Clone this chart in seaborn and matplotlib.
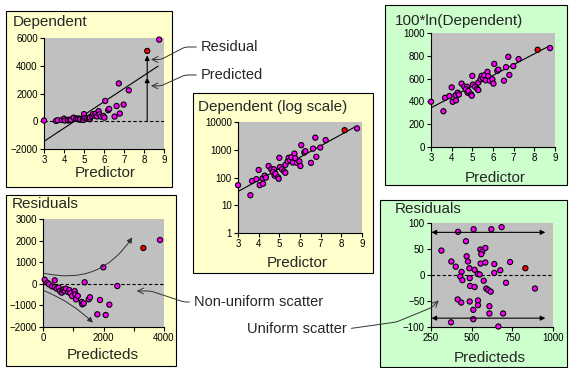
"""Transforming the dependent variable: raw vs log fit and residuals"""
import numpy as np
import matplotlib
matplotlib.use("Agg")
import matplotlib.pyplot as plt
import seaborn as sns
from matplotlib.patches import Rectangle
from matplotlib.ticker import NullLocator

# data
predictor = [3.0, 3.6, 3.68, 3.89, 4.0, 4.05, 4.21, 4.19, 4.29, 4.35,
             4.48, 4.61, 4.74, 4.69, 4.77, 4.81, 4.94, 4.97, 5.0, 5.03,
             5.13, 5.23, 5.29, 5.29, 5.4, 5.45, 5.52, 5.58, 5.65, 5.73,
             5.77, 5.85, 5.97, 6.02, 6.06, 6.21, 6.26, 6.53, 6.63, 6.74,
             6.79, 6.98, 7.24, 8.16, 8.76]
dependent = [53, 23, 75, 87, 187, 53, 60, 93, 117, 99,
             260, 198, 198, 158, 117, 136, 102, 90, 513, 238,
             198, 167, 148, 284, 380, 513, 416, 539, 347, 728,
             498, 337, 380, 260, 1466, 796, 889, 337, 1097, 2725,
             556, 1200, 2231, 5066, 5884]
flag = ["n"] * 43 + ["r", "n"]

# fitted lines (ends)
fit_x = [3.0, 8.7]
fit_raw = [-1450, 3970]
fit_ln = [344, 884]

# residuals of the raw fit
raw_pred = [55, 143, 198, 300, 386, 386, 452, 518, 560, 617,
            650, 680, 716, 760, 826, 870, 900, 959, 1047, 1069,
            1091, 1150, 1278, 1300, 1344, 1377, 1510, 1553, 1796, 1884,
            1994, 2072, 2193, 2457, 3317, 3868]
raw_res = [190, 50, -25, -120, 160, -150, -225, -180, -330, -410,
           -290, -260, -335, -225, -380, -290, -430, -565, -335, -490,
           -720, -560, -840, -950, -905, 70, -720, -625, -1413, -750,
           762, -1444, -966, -102, 1657, 2028]
raw_flag = ["n"] * 34 + ["r", "n"]

# residuals of the log fit
log_pred = [416, 512, 621, 684, 465, 314, 553, 565, 584, 559,
            469, 477, 375, 402, 486, 555, 584, 639, 736, 830,
            518, 676, 639, 438, 537, 549, 430, 443, 488, 574,
            711, 490, 518, 590, 602, 617, 889, 414, 436, 488,
            539, 539, 609, 510, 609, 693, 373, 510, 664]
log_res = [83, 88, 88, 92, 65, 47, 49, 45, 52, 40,
           36, 26, 26, 16, 13, 22, 24, 21, 25, 13,
           10, 9, 4, 6, 2, 1, -3, -10, -6, -11,
           -15, -21, -23, -26, -29, -32, -26, -47, -53, -51,
           -49, -58, -60, -67, -74, -74, -91, -85, -99]
log_flag = ["n"] * 19 + ["r"] + ["n"] * 29

W, H = 578, 368
YELLOW = "#FFFFCC"
GREEN = "#CCFFCC"
PAL = {"n": "#FF00FF", "r": "#FF0000"}

sns.set_theme(style="white")
plt.rcParams["font.family"] = ["Liberation Sans", "DejaVu Sans"]

fig = plt.figure(figsize=(W / 100, H / 100), dpi=100)


def box(l, t, r, b, color):
    fig.patches.append(Rectangle((l / W, 1 - b / H), (r - l) / W, (b - t) / H,
                                 transform=fig.transFigure, facecolor=color,
                                 edgecolor="black", lw=0.8, zorder=-1))


def make_ax(l, t, r, b):
    ax = fig.add_axes([l / W, 1 - b / H, (r - l) / W, (b - t) / H])
    ax.set_facecolor("#C0C0C0")
    ax.spines["top"].set_visible(False)
    ax.spines["right"].set_visible(False)
    for s in ["left", "bottom"]:
        ax.spines[s].set_color("black")
        ax.spines[s].set_linewidth(0.8)
    ax.tick_params(direction="out", length=3, width=0.8, labelsize=7,
                   pad=1.5, colors="black", bottom=True, left=True)
    return ax


def ftext(x, y, s, size=11, **kw):
    fig.text(x / W, 1 - y / H, s, fontsize=size, va="center", **kw)


def dots(ax, x, y, hue):
    sns.scatterplot(x=x, y=y, hue=hue, palette=PAL, marker="o", s=14,
                    edgecolor="black", linewidth=0.8, legend=False, ax=ax,
                    zorder=3, clip_on=False)


def zero_line(ax):
    ax.axhline(0, color="black", lw=0.8, ls=(0, (3, 2)), zorder=2)


x = np.array(predictor)
y = np.array(dependent, dtype=float)
ln100 = 100 * np.log(y)
arrow_kw = dict(color="#333333", lw=0.7, shrinkA=1, shrinkB=0)
link = "arc,angleA=180,angleB=0,armA=16,armB=10,rad=3"

# --- panel 1: raw dependent
box(6, 11, 172, 187, YELLOW)
ax1 = make_ax(44, 38, 164, 149)
zero_line(ax1)
sns.lineplot(x=fit_x, y=fit_raw, color="black", lw=0.8, ax=ax1)
dots(ax1, x, y, flag)
ax1.set_xlim(3, 9)
ax1.set_ylim(-2000, 6000)
ax1.set_xticks(range(3, 10))
ax1.set_yticks(range(-2000, 6001, 2000))
ax1.annotate("", xy=(8.16, 3150), xytext=(8.16, 0),
             arrowprops=dict(arrowstyle="-|>", color="black", lw=0.8,
                             mutation_scale=7, shrinkA=0, shrinkB=0))
ax1.annotate("", xy=(8.16, 4750), xytext=(8.16, 3150),
             arrowprops=dict(arrowstyle="-|>", color="black", lw=0.8,
                             mutation_scale=7, shrinkA=0, shrinkB=0))
ax1.annotate("Residual", xy=(8.35, 4450), xytext=(201 / W, 1 - 47 / H),
             textcoords="figure fraction", fontsize=10.5, va="center",
             annotation_clip=False,
             arrowprops=dict(arrowstyle="->", relpos=(0, 0.5),
                             connectionstyle=link, **arrow_kw))
ax1.annotate("Predicted", xy=(8.35, 2550), xytext=(201 / W, 1 - 75 / H),
             textcoords="figure fraction", fontsize=10.5, va="center",
             annotation_clip=False,
             arrowprops=dict(arrowstyle="->", relpos=(0, 0.5),
                             connectionstyle=link, **arrow_kw))
ftext(13, 22, "Dependent")
ftext(105, 173, "Predictor", ha="center")

# --- panel 2: residuals of raw fit
box(6, 195, 176, 366, YELLOW)
ax2 = make_ax(43, 219, 164, 327)
zero_line(ax2)
dots(ax2, raw_pred, raw_res, raw_flag)
ax2.set_xlim(0, 4000)
ax2.set_ylim(-2000, 3000)
ax2.set_xticks(range(0, 4001, 1000))
ax2.set_xticklabels(["0", "", "2000", "", "4000"])
ax2.set_yticks(range(-2000, 3001, 1000))
ax2.annotate("", xy=(2950, 2150), xytext=(0, 500),
             arrowprops=dict(arrowstyle="-|>", mutation_scale=8,
                             connectionstyle="arc3,rad=0.35", **arrow_kw))
ax2.annotate("", xy=(1650, -1800), xytext=(0, -300),
             arrowprops=dict(arrowstyle="-|>", mutation_scale=8,
                             connectionstyle="arc3,rad=-0.1", **arrow_kw))
ax2.annotate("Non-uniform scatter", xy=(3096, -333),
             xytext=(194 / W, 1 - 302 / H), textcoords="figure fraction",
             fontsize=10.5, va="center", annotation_clip=False,
             arrowprops=dict(arrowstyle="->", relpos=(0, 0.5),
                             connectionstyle="arc,angleA=180,angleB=0,armA=10,armB=14,rad=3",
                             **arrow_kw))
ftext(12, 204, "Residuals")
ftext(103, 355, "Predicteds", ha="center")

# --- panel 3: log scale
box(193, 93, 373, 273, YELLOW)
ax3 = make_ax(238, 122, 362, 233)
ax3.set_yscale("log")
sns.lineplot(x=fit_x, y=np.exp(np.array(fit_ln) / 100), color="black",
             lw=0.8, ax=ax3)
dots(ax3, x, y, flag)
ax3.set_xlim(3, 9)
ax3.set_ylim(1, 10000)
ax3.set_xticks(range(3, 10))
ax3.set_yticks([1, 10, 100, 1000, 10000])
ax3.set_yticklabels(["1", "10", "100", "1000", "10000"])
ax3.yaxis.set_minor_locator(NullLocator())
ftext(198, 107, "Dependent (log scale)")
ftext(297, 263, "Predictor", ha="center")

# --- panel 4: 100*ln
box(385, 5, 567, 185, GREEN)
ax4 = make_ax(431, 33, 555, 147)
sns.lineplot(x=fit_x, y=fit_ln, color="black", lw=0.8, ax=ax4)
dots(ax4, x, ln100, flag)
ax4.set_xlim(3, 9)
ax4.set_ylim(0, 1000)
ax4.set_xticks(range(3, 10))
ax4.set_yticks(range(0, 1001, 200))
ftext(395, 21, "100*ln(Dependent)")
ftext(495, 178, "Predictor", ha="center")

# --- panel 5: residuals of log fit
box(380, 200, 567, 367, GREEN)
ax5 = make_ax(431, 223, 553, 327)
zero_line(ax5)
dots(ax5, log_pred, log_res, log_flag)
ax5.set_xlim(250, 1000)
ax5.set_ylim(-100, 100)
ax5.set_xticks([250, 500, 750, 1000])
ax5.set_yticks(range(-100, 101, 50))
for yy in (82, -83):
    ax5.annotate("", xy=(953, yy), xytext=(253, yy),
                 arrowprops=dict(arrowstyle="<|-|>", color="black", lw=0.8,
                                 mutation_scale=7, shrinkA=0, shrinkB=0))
ax5.annotate("Uniform scatter", xy=(297, -49),
             xytext=(247 / W, 1 - 329 / H), textcoords="figure fraction",
             fontsize=10.5, va="center", annotation_clip=False,
             arrowprops=dict(arrowstyle="->", relpos=(1, 0.5),
                             connectionstyle="arc,angleA=8,angleB=225,armA=50,armB=10,rad=3",
                             **arrow_kw))
ftext(395, 209, "Residuals")
ftext(490, 358, "Predicteds", ha="center")

fig.savefig("out.png", dpi=100)
